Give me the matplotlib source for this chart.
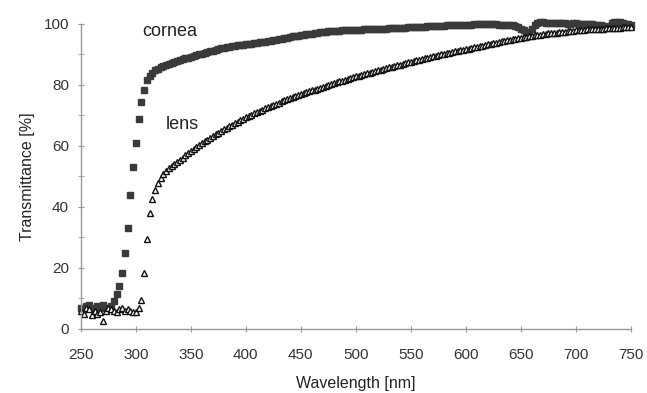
import numpy as np
import matplotlib
matplotlib.use("Agg")
import matplotlib.pyplot as plt
from matplotlib.ticker import MultipleLocator

plt.rcParams['font.family'] = ['Liberation Sans', 'DejaVu Sans']

# wavelength grid, 2.5 nm steps from 250 to 750 nm
wavelength = np.arange(250, 750.1, 2.5)

# transmittance [%]
cornea = [
    7, 6.5, 7.5, 8, 7, 6, 7.5, 7, 8, 7, 6.5, 7.5, 9, 11.5, 14, 18.5, 25, 33, 44, 53,
    61, 69, 74.5, 78.5, 81.5, 83, 84, 84.8, 85.3, 85.8, 86.2, 86.6, 87, 87.3, 87.6, 87.9, 88.2, 88.5, 88.8, 89,
    89.3, 89.5, 89.8, 90.1, 90.3, 90.6, 90.8, 91.1, 91.3, 91.5, 91.8, 92, 92.1, 92.3, 92.5, 92.7, 92.8, 93, 93.1, 93.2,
    93.3, 93.4, 93.5, 93.7, 93.8, 94, 94.1, 94.2, 94.3, 94.5, 94.6, 94.8, 95, 95.2, 95.4, 95.5, 95.7, 95.9, 96, 96.2,
    96.3, 96.4, 96.6, 96.7, 96.8, 97, 97.1, 97.3, 97.4, 97.5, 97.6, 97.7, 97.7, 97.8, 97.8, 97.9, 97.9, 98, 98, 98,
    98, 98.1, 98.1, 98.2, 98.2, 98.3, 98.3, 98.4, 98.4, 98.5, 98.5, 98.5, 98.6, 98.6, 98.7, 98.7, 98.8, 98.8, 98.8, 98.9,
    98.9, 99, 99, 99, 99.1, 99.1, 99.2, 99.2, 99.3, 99.3, 99.3, 99.4, 99.4, 99.5, 99.5, 99.5, 99.6, 99.6, 99.7, 99.7,
    99.7, 99.8, 99.8, 99.9, 99.9, 100, 100, 100, 100.1, 100, 100, 99.9, 99.8, 99.8, 99.7, 99.6, 99.6, 99.5, 99.4, 99,
    98.5, 98, 97.3, 97.5, 98.5, 99.5, 100.3, 100.5, 100.5, 100.4, 100.3, 100.3, 100.2, 100.2, 100.3, 100.2, 100.2, 100.1, 100.1, 100.2,
    100.2, 100.1, 100.1, 100, 100, 100, 99.9, 99.8, 99.8, 99.5, 99.2, 99, 99.3, 100.2, 100.8, 100.8, 100.5, 100.2, 100, 99.9,
    99.8,
]

lens = [
    6, 5, 7, 6.5, 4.5, 6, 5, 5.5, 2.5, 6, 7, 6.5, 6, 5.5, 6.5, 7, 6, 6.5, 6, 5.5,
    5.5, 7, 9.5, 18.5, 29.5, 38, 42.5, 45.5, 48, 49.5, 50.8, 51.8, 52.7, 53.5, 54.2, 54.9, 55.5, 56.2, 56.9, 57.6,
    58.4, 59, 59.6, 60.2, 60.9, 61.5, 62.1, 62.7, 63.3, 63.9, 64.4, 65, 65.5, 66, 66.5, 67, 67.5, 68, 68.5, 69,
    69.4, 69.8, 70.3, 70.7, 71.1, 71.5, 71.9, 72.3, 72.7, 73.1, 73.5, 73.9, 74.2, 74.6, 75, 75.3, 75.7, 76, 76.3, 76.7,
    77, 77.3, 77.6, 77.9, 78.2, 78.5, 78.8, 79.1, 79.4, 79.7, 80, 80.3, 80.6, 80.9, 81.2, 81.4, 81.7, 82, 82.2, 82.5,
    82.8, 83, 83.3, 83.5, 83.8, 84, 84.3, 84.5, 84.8, 85, 85.3, 85.5, 85.8, 86, 86.2, 86.5, 86.7, 87, 87.2, 87.4,
    87.6, 87.9, 88.1, 88.3, 88.5, 88.8, 89, 89.2, 89.4, 89.6, 89.8, 90, 90.2, 90.4, 90.6, 90.8, 91, 91.2, 91.4, 91.5,
    91.7, 91.9, 92.1, 92.3, 92.5, 92.7, 92.9, 93.1, 93.3, 93.5, 93.7, 93.9, 94.1, 94.3, 94.5, 94.7, 94.9, 95, 95.2, 95.4,
    95.5, 95.7, 95.8, 96, 96.1, 96.3, 96.4, 96.5, 96.7, 96.8, 96.9, 97, 97.1, 97.2, 97.3, 97.4, 97.5, 97.6, 97.7, 97.8,
    97.9, 98, 98, 98.1, 98.2, 98.2, 98.3, 98.4, 98.4, 98.5, 98.5, 98.6, 98.6, 98.7, 98.7, 98.8, 98.8, 98.9, 98.9, 99,
    99.1,
]

fig = plt.figure(figsize=(6.47, 3.93), dpi=100)
ax = fig.add_axes([0.125, 0.163, 0.85, 0.776])

ax.plot(wavelength, cornea, ls='none', marker='s', ms=4.6, mfc='#3a3a3a', mec='#3a3a3a', clip_on=False)
ax.plot(wavelength, lens, ls='none', marker='^', ms=5.0, mfc='white', mec='#111111', mew=1.0, clip_on=False)

ax.text(331, 97.5, "cornea", fontsize=13, color='#222222', ha='center', va='center')
ax.text(342, 67, "lens", fontsize=13, color='#222222', ha='center', va='center')

ax.set_xlim(250, 750)
ax.set_ylim(0, 100)
ax.xaxis.set_major_locator(MultipleLocator(50))
ax.yaxis.set_major_locator(MultipleLocator(20))
ax.yaxis.set_minor_locator(MultipleLocator(10))

for s in ['top', 'right']:
    ax.spines[s].set_visible(False)
for s in ['left', 'bottom']:
    ax.spines[s].set_color('#999999')
    ax.spines[s].set_linewidth(1.0)

ax.tick_params(which='both', direction='inout', length=5, color='#999999', labelcolor='#333333', labelsize=11)
ax.tick_params(axis='y', pad=6)
ax.tick_params(axis='x', pad=11)

ax.set_xlabel("Wavelength [nm]", fontsize=11.5, color='#222222', labelpad=10)
ax.set_ylabel("Transmittance [%]", fontsize=11.5, color='#222222', labelpad=6)

fig.savefig("out.png", dpi=100)
